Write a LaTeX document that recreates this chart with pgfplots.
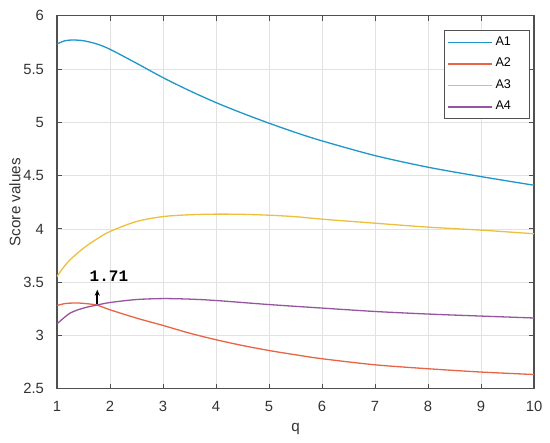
\documentclass[border=0pt]{standalone}
\usepackage{fontspec}
\setmainfont{Liberation Sans}
\newfontfamily\monofont{Liberation Mono}
\usepackage{pgfplots}
\pgfplotsset{compat=1.18}
\usetikzlibrary{calc,arrows.meta}

\definecolor{lineA}{RGB}{30,150,200}
\definecolor{lineB}{RGB}{232,100,70}
\definecolor{lineC}{RGB}{236,192,60}
\definecolor{lineD}{RGB}{150,85,160}
\definecolor{gridGray}{RGB}{226,226,226}
\definecolor{axisGray}{RGB}{80,80,80}

\begin{document}
\begin{tikzpicture}
\begin{axis}[
    scale only axis,
    width=238.5pt, height=186.6pt,
    xmin=1, xmax=10, ymin=2.5, ymax=6,
    xtick={1,2,...,10},
    ytick={2.5,3,3.5,4,4.5,5,5.5,6},
    tick pos=both, tick align=inside,
    major tick length=2.5pt,
    grid=major,
    grid style={line width=0.4pt, draw=gridGray},
    axis line style={axisGray, line width=0.6pt},
    tick style={axisGray, line width=0.5pt},
    /pgf/number format/assume math mode=true,
    tick label style={font=\fontsize{7.4pt}{8.5pt}\selectfont, text=black!80},
    yticklabel style={xshift=-3pt},
    xticklabel style={yshift=-2.5pt},
    xlabel={q}, ylabel={Score values},
    label style={font=\fontsize{7.6pt}{9pt}\selectfont, text=black!80},
    xlabel style={yshift=1pt},
    ylabel style={yshift=-5.5pt},
    legend style={
        at={(1,1)}, anchor=north east, xshift=-2pt, yshift=-7.2pt,
        font=\fontsize{6.3pt}{7.5pt}\selectfont,
        draw=axisGray, line width=0.5pt, fill=white,
        row sep=0.9pt, inner xsep=1.5pt, inner ysep=1pt,
        cells={anchor=west},
        nodes={inner xsep=1.5pt, text width=14pt}},
    legend image code/.code={\draw[#1, line width=0.6pt] (0pt,0pt) -- (22pt,0pt);},
    every axis plot/.append style={line width=0.65pt, smooth},
]
\addplot[color=lineA] coordinates {
    (1.0,5.735) (1.15,5.765) (1.3,5.772) (1.5,5.765) (1.75,5.735) (2.0,5.685)
    (2.5,5.554) (3.0,5.419) (3.5,5.297) (4.0,5.185) (4.5,5.085) (5.0,4.992)
    (5.5,4.905) (6.0,4.826) (7.0,4.688) (8.0,4.579) (9.0,4.491) (10.0,4.41)};
\addlegendentry{A1}
\addplot[color=lineB] coordinates {
    (1.0,3.282) (1.15,3.300) (1.34,3.306) (1.5,3.302) (1.75,3.286) (2.0,3.242)
    (2.5,3.164) (3.0,3.095) (3.5,3.023) (4.0,2.961) (4.5,2.907) (5.0,2.860)
    (5.5,2.820) (6.0,2.783) (7.0,2.726) (8.0,2.689) (9.0,2.658) (10.0,2.635)};
\addlegendentry{A2}
\addplot[color=lineC] coordinates {
    (1.0,3.554) (1.1,3.625) (1.245,3.71) (1.5,3.82) (1.75,3.905) (2.0,3.976)
    (2.5,4.07) (3.0,4.116) (3.5,4.133) (4.0,4.139) (4.5,4.137) (5.0,4.129)
    (5.5,4.115) (6.0,4.092) (7.0,4.054) (8.0,4.017) (9.0,3.989) (10.0,3.955)};
\addlegendentry{A3}
\addplot[color=lineD] coordinates {
    (1.0,3.11) (1.245,3.21) (1.5,3.258) (1.75,3.286) (2.0,3.31) (2.5,3.338)
    (3.0,3.347) (3.5,3.342) (4.0,3.329) (5.0,3.291) (6.0,3.258) (7.0,3.226)
    (8.0,3.202) (9.0,3.183) (10.0,3.165)};
\addlegendentry{A4}

% crossing point annotation
\draw[-{Stealth[length=3pt,width=2.6pt]}, line width=0.8pt, black]
    (axis cs:1.76,3.30) -- (axis cs:1.76,3.43);
\node[font=\monofont\bfseries\fontsize{8pt}{9pt}\selectfont, inner sep=0pt]
    at (axis cs:1.98,3.555) {1.71};
\end{axis}
\pgfresetboundingbox
\path ($(current axis.south west)+(-28.5pt,-27pt)$) rectangle
      ($(current axis.north east)+(8pt,7.85pt)$);
\end{tikzpicture}
\end{document}
